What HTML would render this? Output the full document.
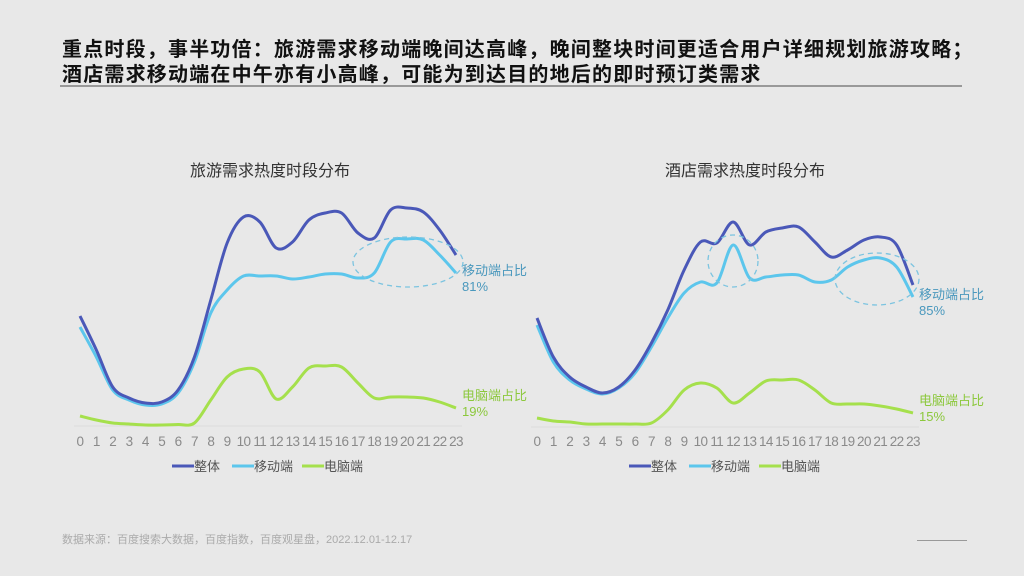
<!DOCTYPE html>
<html><head><meta charset="utf-8">
<style>
body{margin:0;width:1024px;height:576px;background:#e8e8e8;overflow:hidden;font-family:"Liberation Sans","Noto Sans CJK SC",sans-serif;}
.t{position:absolute;left:62px;font-weight:bold;font-size:20px;color:#111;white-space:nowrap;letter-spacing:1.2px;font-family:"Liberation Sans","Noto Sans CJK SC",sans-serif;}
</style></head><body>
<div class="t" style="top:33px">重点时段，事半功倍：旅游需求移动端晚间达高峰，晚间整块时间更适合用户详细规划旅游攻略；</div>
<div class="t" style="top:58px">酒店需求移动端在中午亦有小高峰，可能为到达目的地后的即时预订类需求</div>
<div style="position:absolute;left:60px;top:85px;width:902px;height:2px;background:#999"></div>
<svg id="svg" width="1024" height="576" style="position:absolute;left:0;top:0"></svg>
<div style="position:absolute;left:62px;top:531px;font-size:11px;color:#aaa">数据来源：百度搜索大数据，百度指数，百度观星盘，2022.12.01-12.17</div>
<div style="position:absolute;left:917px;top:540px;width:50px;height:1px;background:#999"></div>
<script>
const hours=[0,1,2,3,4,5,6,7,8,9,10,11,12,13,14,15,16,17,18,19,20,21,22,23];
const travelTotal=[109,75,38,27,22,23,35,68,125,182,208,203,177,183,205,212,212,192,187,215,217,213,195,170];
const travelMobile=[98,68,35,25,20,21,32,63,112,135,149,149,149,146,148,151,151,147,152,183,186,185,170,152];
const travelPC=[9,5,2,1,0,0,0.5,2,25,48,56,53,26,38,57,59,58,42,27,28,28,27,23,17];
const hotelTotal=[108,69,49,39,33,39,56,83,116,156,184,183,204,181,194,198,199,184,169,176,186,189,181,141];
const hotelMobile=[101,64,46,37,32,38,53,79,108,133,144,143,181,148,149,151,151,144,146,159,166,168,159,129];
const hotelPC=[8,5,4,2,2,2,2,3,16,36,43,38,23,33,45,46,46,36,23,22,22,20,17,13];
const svg=document.getElementById('svg');
const NS='http://www.w3.org/2000/svg';
function mk(tag,attrs,parent){const e=document.createElementNS(NS,tag);for(const k in attrs)e.setAttribute(k,attrs[k]);(parent||svg).appendChild(e);return e;}
function path(pts){let d='M'+pts[0][0]+','+pts[0][1];for(let i=0;i<pts.length-1;i++){const p0=pts[Math.max(0,i-1)],p1=pts[i],p2=pts[i+1],p3=pts[Math.min(pts.length-1,i+2)];const c1=[p1[0]+(p2[0]-p0[0])/6,p1[1]+(p2[1]-p0[1])/6],c2=[p2[0]-(p3[0]-p1[0])/6,p2[1]-(p3[1]-p1[1])/6];d+=' C'+c1+' '+c2+' '+p2;}return d;}
const colors={total:'#4a58b8',mobile:'#5cc6ec',pc:'#a5e04c'};
function chart(cfg){
  const xs=h=>cfg.x0+(cfg.x1-cfg.x0)*h/23, ys=v=>cfg.base-v;
  const g=mk('g',{});
  
  
  const t=mk('text',{x:cfg.cx,y:176,'text-anchor':'middle','font-size':16,fill:'#333'},g);t.textContent=cfg.title;
  
  const ax=mk('line',{x1:cfg.x0-6,x2:cfg.x1+6,y1:cfg.base+1,y2:cfg.base+1,stroke:'#dcdcdc'},g);
  
  hours.forEach(h=>{const l=mk('text',{x:xs(h),y:446,'text-anchor':'middle','font-size':13.5,fill:'#8a8a8a','letter-spacing':'-0.6'},g);l.textContent=h;
    });
  [['pc',cfg.pc],['mobile',cfg.mobile],['total',cfg.total]].forEach(([k,arr])=>{
    const p=mk('path',{d:path(arr.map((v,i)=>[xs(hours[i]),ys(v)])),fill:'none',stroke:colors[k],'stroke-width':3},g);
    });
  cfg.ellipses.forEach(e=>{const el=mk('ellipse',{cx:e[0],cy:e[1],rx:e[2],ry:e[3],fill:'none',stroke:'#7cc4e0','stroke-width':1.3,'stroke-dasharray':'5,4'},g);
    });
  const la=(txt,y,c,n)=>{const l=mk('text',{x:cfg.x1+6,y:y,'font-size':13,fill:c},g);l.textContent=txt;};
  la('移动端占比',ys(cfg.mobile[23])+2,'#4a98bd','mobile-share-label');la(cfg.mShare,ys(cfg.mobile[23])+18,'#4a98bd','mobile-share-value');
  la('电脑端占比',ys(cfg.pc[23])-8,'#8cc83c','pc-share-label');la(cfg.pShare,ys(cfg.pc[23])+8,'#8cc83c','pc-share-value');
  [['total','整体',0],['mobile','移动端',60],['pc','电脑端',130]].forEach(([k,n,o])=>{
    const lg=mk('g',{},g);
    mk('line',{x1:cfg.lx+o,x2:cfg.lx+o+22,y1:466,y2:466,stroke:colors[k],'stroke-width':3},lg);
    const tx=mk('text',{x:cfg.lx+o+22,y:471,'font-size':13,fill:'#555'},lg);tx.textContent=n;});
}
chart({name:'travel-chart',title:'旅游需求热度时段分布',cx:270,x0:80,x1:456,base:425,total:travelTotal,mobile:travelMobile,pc:travelPC,mShare:'81%',pShare:'19%',ellipses:[[408,262,55,25]],lx:172});
chart({name:'hotel-chart',title:'酒店需求热度时段分布',cx:745,x0:537,x1:913,base:426,total:hotelTotal,mobile:hotelMobile,pc:hotelPC,mShare:'85%',pShare:'15%',ellipses:[[733,261,25,26],[877,279,42,26]],lx:629});
</script>
</body></html>
